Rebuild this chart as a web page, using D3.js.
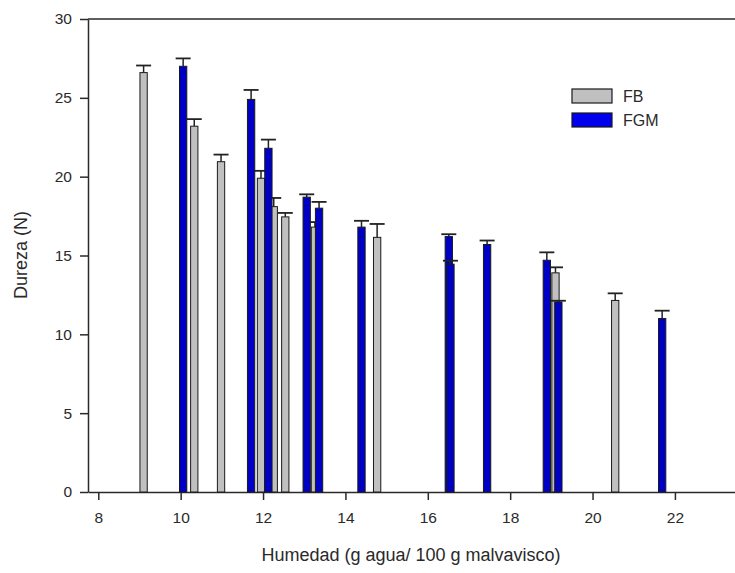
<!DOCTYPE html>
<html>
<head>
<meta charset="utf-8">
<script src="https://cdn.jsdelivr.net/npm/d3@7"></script>
<style>
  html, body { margin: 0; padding: 0; background: #fff; }
  svg { display: block; font-family: "Liberation Sans", Arial, sans-serif; }
</style>
</head>
<body>
<svg id="chart" width="735" height="573"></svg>
<script>
// Moisture (g water / 100 g marshmallow) vs hardness (N), two formulations
const fbHumedad  = [9.10, 10.33, 10.98, 11.95, 12.26, 12.54, 13.26, 14.77, 19.10, 20.55];
const fbDureza   = [26.6, 23.2, 20.95, 19.9, 18.1, 17.45, 16.8, 16.15, 13.9, 12.15];
const fbError    = [0.45, 0.45, 0.45, 0.47, 0.55, 0.25, 0.32, 0.85, 0.35, 0.45];

const fgmHumedad = [10.06, 11.71, 12.13, 13.06, 13.36, 14.39, 16.51, 16.55, 17.44, 18.89, 19.17, 21.69];
const fgmDureza  = [27.0, 24.9, 21.8, 18.7, 18.0, 16.8, 16.2, 14.45, 15.7, 14.7, 12.05, 11.0];
const fgmError   = [0.5, 0.6, 0.55, 0.18, 0.4, 0.4, 0.15, 0.22, 0.25, 0.5, 0.08, 0.5];

const xTicks = [8, 10, 12, 14, 16, 18, 20, 22];
const yTicks = [0, 5, 10, 15, 20, 25, 30];

const seriesNames = ["FB", "FGM"];
const seriesFill  = ["#c0c0c0", "#0000c4"];

const svg = d3.select("#chart");

const x = d3.scaleLinear().domain([7.75, 23.5]).range([88, 736.7]);
const y = d3.scaleLinear().domain([0, 30]).range([492, 19]);

const axisColor = "#2a2a2a";
const barW = 7.3;
const capW = 15;

// Axes
const gx = svg.append("g").attr("transform", `translate(0,${y(0)})`)
  .call(d3.axisBottom(x).tickValues(xTicks).tickSize(8).tickPadding(12).tickSizeOuter(0));
const gy = svg.append("g").attr("transform", `translate(${x.range()[0]},0)`)
  .call(d3.axisLeft(y).tickValues(yTicks).tickSize(8).tickPadding(8).tickSizeOuter(0));

[gx, gy].forEach(g => {
  g.select(".domain").attr("stroke", axisColor).attr("stroke-width", 1.5);
  g.selectAll(".tick line").attr("stroke", axisColor).attr("stroke-width", 1.5);
  g.selectAll(".tick text").attr("fill", "#2a2a2a").style("font-size", "15.5px");
});

// Top frame line
svg.append("line")
  .attr("x1", x.range()[0]).attr("x2", 735)
  .attr("y1", y(30)).attr("y2", y(30))
  .attr("stroke", axisColor).attr("stroke-width", 1.5);

// Bars with upper error bars
function drawSeries(xs, vals, errs, fill, cls) {
  const data = xs.map((h, i) => ({ h, v: vals[i], e: errs[i] }));
  const g = svg.append("g").attr("class", cls);
  data.forEach(d => {
    g.append("line")
      .attr("x1", x(d.h)).attr("x2", x(d.h))
      .attr("y1", y(d.v)).attr("y2", y(d.v + d.e))
      .attr("stroke", "#222").attr("stroke-width", 1.5);
    g.append("line")
      .attr("x1", x(d.h) - capW / 2).attr("x2", x(d.h) + capW / 2)
      .attr("y1", y(d.v + d.e)).attr("y2", y(d.v + d.e))
      .attr("stroke", "#222").attr("stroke-width", 1.8);
    g.append("rect")
      .attr("x", x(d.h) - barW / 2)
      .attr("y", y(d.v))
      .attr("width", barW)
      .attr("height", y(0) - y(d.v))
      .attr("fill", fill)
      .attr("stroke", "#1a1a1a")
      .attr("stroke-width", 1);
  });
}
drawSeries(fbHumedad, fbDureza, fbError, seriesFill[0], "fb");
drawSeries(fgmHumedad, fgmDureza, fgmError, seriesFill[1], "fgm");

// Legend
const legend = svg.append("g").attr("transform", "translate(572,89)");
seriesNames.forEach((name, i) => {
  const row = legend.append("g").attr("transform", `translate(0,${i * 24})`);
  row.append("rect").attr("width", 40).attr("height", 14)
    .attr("fill", i === 0 ? seriesFill[0] : "#0000ec")
    .attr("stroke", "#1a1a1a").attr("stroke-width", 1.2);
  row.append("text").attr("x", 51).attr("y", 13)
    .attr("fill", "#2a2a2a").style("font-size", "16px").text(name);
});

// Axis titles
svg.append("text")
  .attr("x", 411).attr("y", 561)
  .attr("text-anchor", "middle")
  .attr("fill", "#2a2a2a").style("font-size", "18px")
  .text("Humedad (g agua/ 100 g malvavisco)");

svg.append("text")
  .attr("transform", "translate(27,255) rotate(-90)")
  .attr("text-anchor", "middle")
  .attr("fill", "#2a2a2a").style("font-size", "18px")
  .text("Dureza (N)");
</script>
</body>
</html>
